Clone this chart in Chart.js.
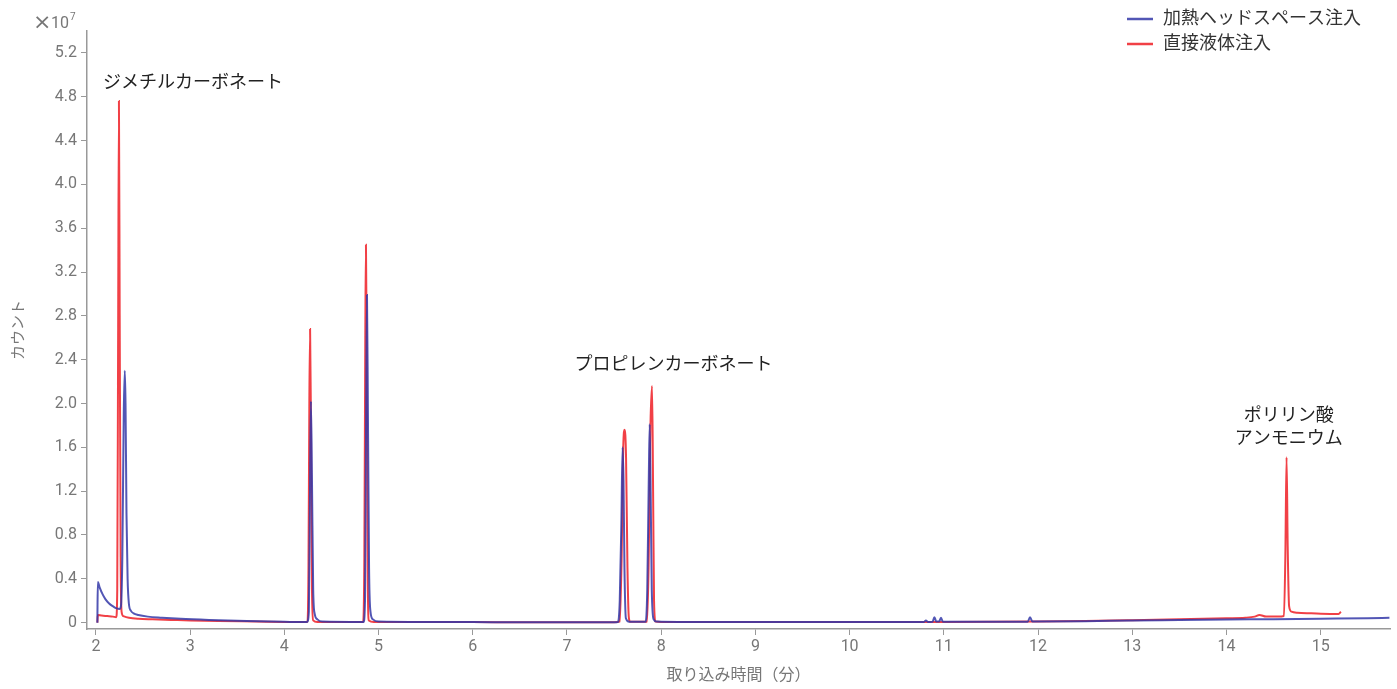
<!DOCTYPE html>
<html>
<head>
<meta charset="utf-8">
<script src="https://cdn.jsdelivr.net/npm/chart.js@4.4.1/dist/chart.umd.min.js"></script>
<style>
  body { margin: 0; background: #fff; }
  #wrap { width: 1397px; height: 689px; position: relative; }
</style>
</head>
<body>
<div id="wrap"><canvas id="chart"></canvas></div>
<script>
// retention time (min) / counts (x10^7)
const hs_time = [2.015, 2.02, 2.04, 2.07, 2.10, 2.14, 2.18, 2.22, 2.25, 2.265, 2.28, 2.295, 2.306, 2.314, 2.324, 2.336, 2.35, 2.37, 2.40, 2.45, 2.55, 2.7, 2.9, 3.2, 3.6, 4.0,
  4.24, 4.26, 4.272, 4.282, 4.293, 4.306, 4.322, 4.35, 4.4,
  4.84, 4.856, 4.867, 4.877, 4.887, 4.899, 4.914, 4.94, 5.0, 5.5, 6.0, 6.5, 7.0, 7.5,
  7.54, 7.56, 7.577, 7.59, 7.6, 7.61, 7.625, 7.66,
  7.835, 7.852, 7.868, 7.878, 7.888, 7.9, 7.92, 7.95, 8.5, 9.0, 9.5, 10.0, 10.5,
  10.79, 10.81, 10.83, 10.88, 10.90, 10.92, 10.95, 10.97, 10.99, 11.5, 11.89, 11.915, 11.94,
  12.5, 13.0, 13.5, 14.0, 14.5, 15.0, 15.5, 15.73];
const hs_counts = [0, 0.37, 0.32, 0.26, 0.215, 0.175, 0.15, 0.13, 0.125, 0.15, 0.6, 1.9, 2.30, 2.0, 1.0, 0.4, 0.17, 0.11, 0.085, 0.07, 0.055, 0.045, 0.035, 0.025, 0.015, 0.008,
  0.005, 0.1, 1.2, 2.02, 1.3, 0.3, 0.08, 0.03, 0.01,
  0.006, 0.2, 1.8, 2.99, 1.9, 0.5, 0.1, 0.03, 0.01, 0.006, 0.005, 0.004, 0.004, 0.004,
  0.006, 0.2, 0.9, 1.60, 1.3, 0.5, 0.04, 0.008,
  0.008, 0.3, 1.3, 1.81, 1.2, 0.3, 0.03, 0.01, 0.005, 0.005, 0.005, 0.005, 0.006,
  0.006, 0.02, 0.006, 0.008, 0.05, 0.01, 0.01, 0.045, 0.008, 0.008, 0.008, 0.05, 0.01,
  0.012, 0.02, 0.024, 0.028, 0.032, 0.036, 0.04, 0.045];

const di_time = [2.015, 2.02, 2.06, 2.12, 2.18, 2.215, 2.226, 2.235, 2.244, 2.252, 2.262, 2.272, 2.29, 2.35, 2.45, 2.6, 2.8, 3.0, 3.3, 3.7, 4.0,
  4.245, 4.256, 4.265, 4.273, 4.282, 4.293, 4.306, 4.35,
  4.835, 4.849, 4.859, 4.866, 4.874, 4.885, 4.897, 4.95, 5.5, 6.0, 6.5, 7.0, 7.5,
  7.56, 7.58, 7.597, 7.612, 7.627, 7.642, 7.656, 7.67,
  7.85, 7.866, 7.886, 7.903, 7.914, 7.924, 7.94, 8.0, 8.5, 9.0, 10.0, 11.0, 12.0, 12.5, 13.0, 13.5, 14.0, 14.2, 14.3, 14.35, 14.42, 14.55,
  14.61, 14.625, 14.638, 14.65, 14.665, 14.69, 14.75, 14.9, 15.1, 15.19, 15.215];
const di_counts = [0, 0.07, 0.065, 0.06, 0.055, 0.05, 0.3, 2.5, 4.76, 2.8, 0.6, 0.1, 0.06, 0.045, 0.035, 0.03, 0.025, 0.02, 0.015, 0.01, 0.006,
  0.005, 0.5, 2.0, 2.68, 1.8, 0.3, 0.02, 0.006,
  0.005, 0.6, 2.6, 3.45, 2.5, 0.4, 0.02, 0.006, 0.005, 0.005, 0.004, 0.004, 0.004,
  0.01, 0.6, 1.6, 1.76, 1.5, 0.5, 0.05, 0.008,
  0.008, 0.5, 1.8, 2.16, 1.2, 0.2, 0.01, 0.006, 0.005, 0.005, 0.005, 0.006, 0.01, 0.015, 0.022, 0.03, 0.04, 0.045, 0.055, 0.07, 0.055, 0.055,
  0.06, 0.6, 1.51, 0.7, 0.15, 0.1, 0.09, 0.085, 0.08, 0.08, 0.1];

const x_ticks = [2, 3, 4, 5, 6, 7, 8, 9, 10, 11, 12, 13, 14, 15];
const y_ticks = [0, 0.4, 0.8, 1.2, 1.6, 2.0, 2.4, 2.8, 3.2, 3.6, 4.0, 4.4, 4.8, 5.2];

const series_names = ['加熱ヘッドスペース注入', '直接液体注入'];
const series_colors = ['rgba(52, 56, 168, 0.85)', 'rgba(238, 30, 38, 0.85)'];

// peak labels (position in data units)
const anno_text = ['ジメチルカーボネート', 'プロピレンカーボネート', 'ポリリン酸', 'アンモニウム'];
const anno_x = [3.03, 8.13, 14.66, 14.66];
const anno_y = [4.92, 2.35, 1.88, 1.67];

const FONT = "Roboto, 'Noto Sans CJK JP', sans-serif";
const GRAY = '#777';

function pts(t, v) {
    return t.map((x, i) => ({ x: x, y: v[i] }));
}

const extras = {
    id: 'extras',
    afterDatasetsDraw(chart) {
        const ctx = chart.ctx;
        const xs = chart.scales.x;
        const ys = chart.scales.y;
        ctx.save();
        // peak labels
        ctx.fillStyle = '#222';
        ctx.font = "18px " + FONT;
        ctx.textAlign = 'center';
        ctx.textBaseline = 'middle';
        anno_text.forEach((s, i) => {
            ctx.fillText(s, xs.getPixelForValue(anno_x[i]), ys.getPixelForValue(anno_y[i]));
        });

        // exponent
        ctx.fillStyle = GRAY;
        ctx.textAlign = 'left';
        ctx.textBaseline = 'alphabetic';
        ctx.font = "22px 'DejaVu Sans'";
        ctx.fillText('×', 33, 29);
        ctx.font = "16px " + FONT;
        ctx.fillText('10', 51, 28);
        ctx.font = "10px " + FONT;
        ctx.fillText('7', 70, 20);

        // legend
        ctx.font = "18px " + FONT;
        ctx.textBaseline = 'middle';
        chart.data.datasets.forEach((ds, i) => {
            const y = 19 + i * 25;
            ctx.strokeStyle = series_colors[i];
            ctx.lineWidth = 2.5;
            ctx.beginPath();
            ctx.moveTo(1127, y);
            ctx.lineTo(1153, y);
            ctx.stroke();
            ctx.fillStyle = '#333';
            ctx.fillText(ds.label, 1163, y);
        });
        ctx.restore();
    }
};

const config = {
    type: 'line',
    data: {
        datasets: [
            {
                label: series_names[0],
                data: pts(hs_time, hs_counts),
                borderColor: series_colors[0],
                borderWidth: 2,
                pointRadius: 0,
                cubicInterpolationMode: 'monotone',
                fill: false
            },
            {
                label: series_names[1],
                data: pts(di_time, di_counts),
                borderColor: series_colors[1],
                borderWidth: 2,
                pointRadius: 0,
                cubicInterpolationMode: 'monotone',
                fill: false
            }
        ]
    },
    options: {
        responsive: true,
        maintainAspectRatio: false,
        animation: false,
        layout: { padding: { top: 31, right: 7, left: 0, bottom: 0 } },
        plugins: {
            legend: { display: false },
            tooltip: { enabled: false }
        },
        scales: {
            x: {
                type: 'linear',
                min: 1.905,
                max: 15.736,
                afterFit: s => { s.height = 60; },
                afterBuildTicks: s => { s.ticks = x_ticks.map(v => ({ value: v })); },
                grid: { drawOnChartArea: false, tickLength: 6, color: '#999' },
                border: { color: '#999', width: 1.5 },
                ticks: { color: GRAY, font: { family: FONT, size: 16 }, padding: 2, maxRotation: 0 },
                title: { display: true, text: '取り込み時間（分）', color: GRAY, font: { family: FONT, size: 16 }, padding: { top: 0, bottom: 3 } }
            },
            y: {
                type: 'linear',
                min: -0.058,
                max: 5.4,
                afterFit: s => { s.width = 87; },
                afterBuildTicks: s => { s.ticks = y_ticks.map(v => ({ value: v })); },
                grid: { drawOnChartArea: false, tickLength: 6, color: '#999' },
                border: { color: '#999', width: 1.5 },
                ticks: {
                    color: GRAY, font: { family: FONT, size: 16 }, padding: 4,
                    callback: v => v === 0 ? '0' : v.toFixed(1)
                },
                title: { display: true, text: 'カウント', color: GRAY, font: { family: FONT, size: 15 }, padding: { top: 10, bottom: 0 } }
            }
        }
    },
    plugins: [extras]
};

window.onload = function () {
    const ctx = document.getElementById('chart').getContext('2d');
    new Chart(ctx, config);
};
</script>
</body>
</html>
